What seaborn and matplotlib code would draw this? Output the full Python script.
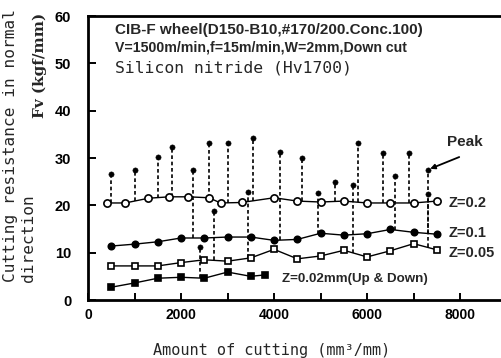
import matplotlib
matplotlib.use("Agg")
import numpy as np
import pandas as pd
import matplotlib.pyplot as plt
import seaborn as sns

# Amount of cutting (mm^3/mm) and normal cutting resistance Fv (kgf/mm)
amount_z02 = [400, 800, 1300, 1750, 2150, 2600, 2850, 3300, 4000, 4500,
              5000, 5500, 6000, 6500, 7000, 7500]
fv_z02 = [20.5, 20.5, 21.5, 21.8, 21.8, 21.6, 20.5, 20.6, 21.6, 20.9,
          20.7, 20.9, 20.5, 20.5, 20.5, 20.9]

amount_std = [500, 1000, 1500, 2000, 2500, 3000, 3500, 4000, 4500, 5000,
              5500, 6000, 6500, 7000, 7500]
fv_z01 = [11.4, 11.8, 12.3, 13.1, 13.1, 13.3, 13.3, 12.6, 12.8, 14.1,
          13.7, 14.0, 14.9, 14.3, 13.9]
fv_z005 = [7.2, 7.2, 7.2, 7.9, 8.5, 8.2, 8.9, 10.7, 8.7, 9.3,
           10.5, 9.1, 10.4, 11.9, 10.6]

amount_z002 = [500, 1000, 1500, 2000, 2500, 3000, 3500, 3800]
fv_z002 = [2.7, 3.6, 4.6, 4.8, 4.6, 5.9, 5.0, 5.3]

# Peak resistance recorded during each pass
peak_amount_z02 = [500, 1000, 1500, 1800, 2600, 3000, 3550, 4600, 5300, 5800, 6350, 6900]
peak_fv_z02 = [26.6, 27.5, 30.2, 32.3, 33.2, 33.2, 34.2, 30.0, 24.9, 33.2, 31.1, 31.1]
peak_amount_z01 = [2250, 4130, 4950, 6600, 7300]
peak_fv_z01 = [27.5, 31.3, 22.6, 26.2, 22.4]
peak_amount_z005 = [2700, 3450, 5700, 7300]
peak_fv_z005 = [18.8, 22.8, 24.3, 27.5]
peak_amount_z002 = [2400]
peak_fv_z002 = [11.1]

x_ticks = [0, 2000, 4000, 6000, 8000]
y_ticks = [0, 10, 20, 30, 40, 50, 60]

sns.set_style("ticks")
plt.rcParams["font.family"] = ["Liberation Sans", "DejaVu Sans"]
mono = ["DejaVu Sans Mono", "DejaVu Sans"]

W, H = 502, 358
fig = plt.figure(figsize=(W / 100, H / 100), dpi=100)
ax = fig.add_axes([88 / W, 1 - 300 / H, (W - 88) / W, (300 - 16) / H])


def fx(px):
    return px / W


def fy(py):
    return 1 - py / H


def peaks(ax, base_x, base_y, px, pv):
    base = np.interp(px, base_x, base_y)
    ax.vlines(px, base, pv, colors="black", linestyles=(0, (2.2, 1.6)),
              linewidth=1.2, zorder=2)
    sns.scatterplot(x=px, y=pv, color="black", s=14, edgecolor="black",
                    linewidth=0.4, ax=ax, zorder=4, legend=False)


peaks(ax, amount_z02, fv_z02, peak_amount_z02, peak_fv_z02)
peaks(ax, amount_std, fv_z01, peak_amount_z01, peak_fv_z01)
peaks(ax, amount_std, fv_z005, peak_amount_z005, peak_fv_z005)
peaks(ax, amount_z002, fv_z002, peak_amount_z002, peak_fv_z002)

line_kw = dict(color="black", linewidth=1.0, markeredgecolor="black",
               markeredgewidth=1.2, ax=ax, zorder=3, legend=False)
sns.lineplot(x=amount_z02, y=fv_z02, marker="o", markersize=5.2,
             markerfacecolor="white", **line_kw)
sns.lineplot(x=amount_std, y=fv_z01, marker="o", markersize=4.6,
             markerfacecolor="black", **line_kw)
sns.lineplot(x=amount_std, y=fv_z005, marker="s", markersize=4.3,
             markerfacecolor="white", **line_kw)
sns.lineplot(x=amount_z002, y=fv_z002, marker="s", markersize=4.3,
             markerfacecolor="black", **line_kw)

ax.set_xlim(0, 8900)
ax.set_ylim(0, 60)
ax.set_xticks(x_ticks)
ax.set_xticks(np.arange(1000, 9000, 2000), minor=True)
ax.set_yticks(y_ticks)
ax.set_xticklabels([str(v) for v in x_ticks], fontsize=10, fontweight="bold")
ax.set_yticklabels([str(v) for v in y_ticks], fontsize=10.5, fontweight="bold")
ax.tick_params(axis="both", which="both", direction="in", width=1.4,
               color="black", labelcolor="black")
ax.tick_params(axis="y", which="major", length=6, pad=12)
ax.tick_params(axis="x", which="major", length=5, pad=6)
ax.tick_params(axis="x", which="minor", length=5)
ax.set_xlabel("")
ax.set_ylabel("")
for side in ["left", "bottom", "top"]:
    ax.spines[side].set_linewidth(2)
    ax.spines[side].set_color("black")
ax.spines["right"].set_visible(False)

# Conditions
fig.text(fx(115), fy(30), "CIB-F wheel(D150-B10,#170/200.Conc.100)",
         fontsize=11, fontweight="bold", va="center", ha="left")
fig.text(fx(115), fy(47), "V=1500m/min,f=15m/min,W=2mm,Down cut",
         fontsize=10.2, fontweight="bold", va="center", ha="left")
fig.text(fx(115), fy(68), "Silicon nitride (Hv1700)",
         fontsize=11.8, family=mono, va="center", ha="left")

# Series labels
lab_kw = dict(fontweight="bold", va="center", ha="left")
fig.text(fx(449), fy(203), "Z=0.2", fontsize=10.5, **lab_kw)
fig.text(fx(449), fy(233), "Z=0.1", fontsize=10.5, **lab_kw)
fig.text(fx(449), fy(253), "Z=0.05", fontsize=10.5, **lab_kw)
fig.text(fx(282), fy(279), "Z=0.02mm(Up & Down)", fontsize=9.6, **lab_kw)

# Peak pointer
ax.annotate("", xy=(7300, 27.5), xytext=(7980, 30.2),
            arrowprops=dict(arrowstyle="-|>", color="black", lw=1.3,
                            shrinkA=0, shrinkB=2, mutation_scale=7))
fig.text(fx(447), fy(142), "Peak", fontsize=11, fontweight="bold",
         va="center", ha="left")

# Axis titles
fig.text(fx(11), fy(282), "Cutting resistance in normal", rotation=90,
         family=mono, fontsize=11.6, va="bottom", ha="center")
fig.text(fx(29), fy(282), "direction", rotation=90,
         family=mono, fontsize=11.6, va="bottom", ha="center")
fig.text(fx(40), fy(13), "Fv (kgf/mm)", rotation=90, fontsize=11,
         fontweight="bold", family=["DejaVu Serif", "DejaVu Sans"],
         va="top", ha="center")
fig.text(fx(272), fy(350), "Amount of cutting (mm\u00b3/mm)", family=mono,
         fontsize=11, va="center", ha="center")

fig.savefig("out.png", dpi=100)
